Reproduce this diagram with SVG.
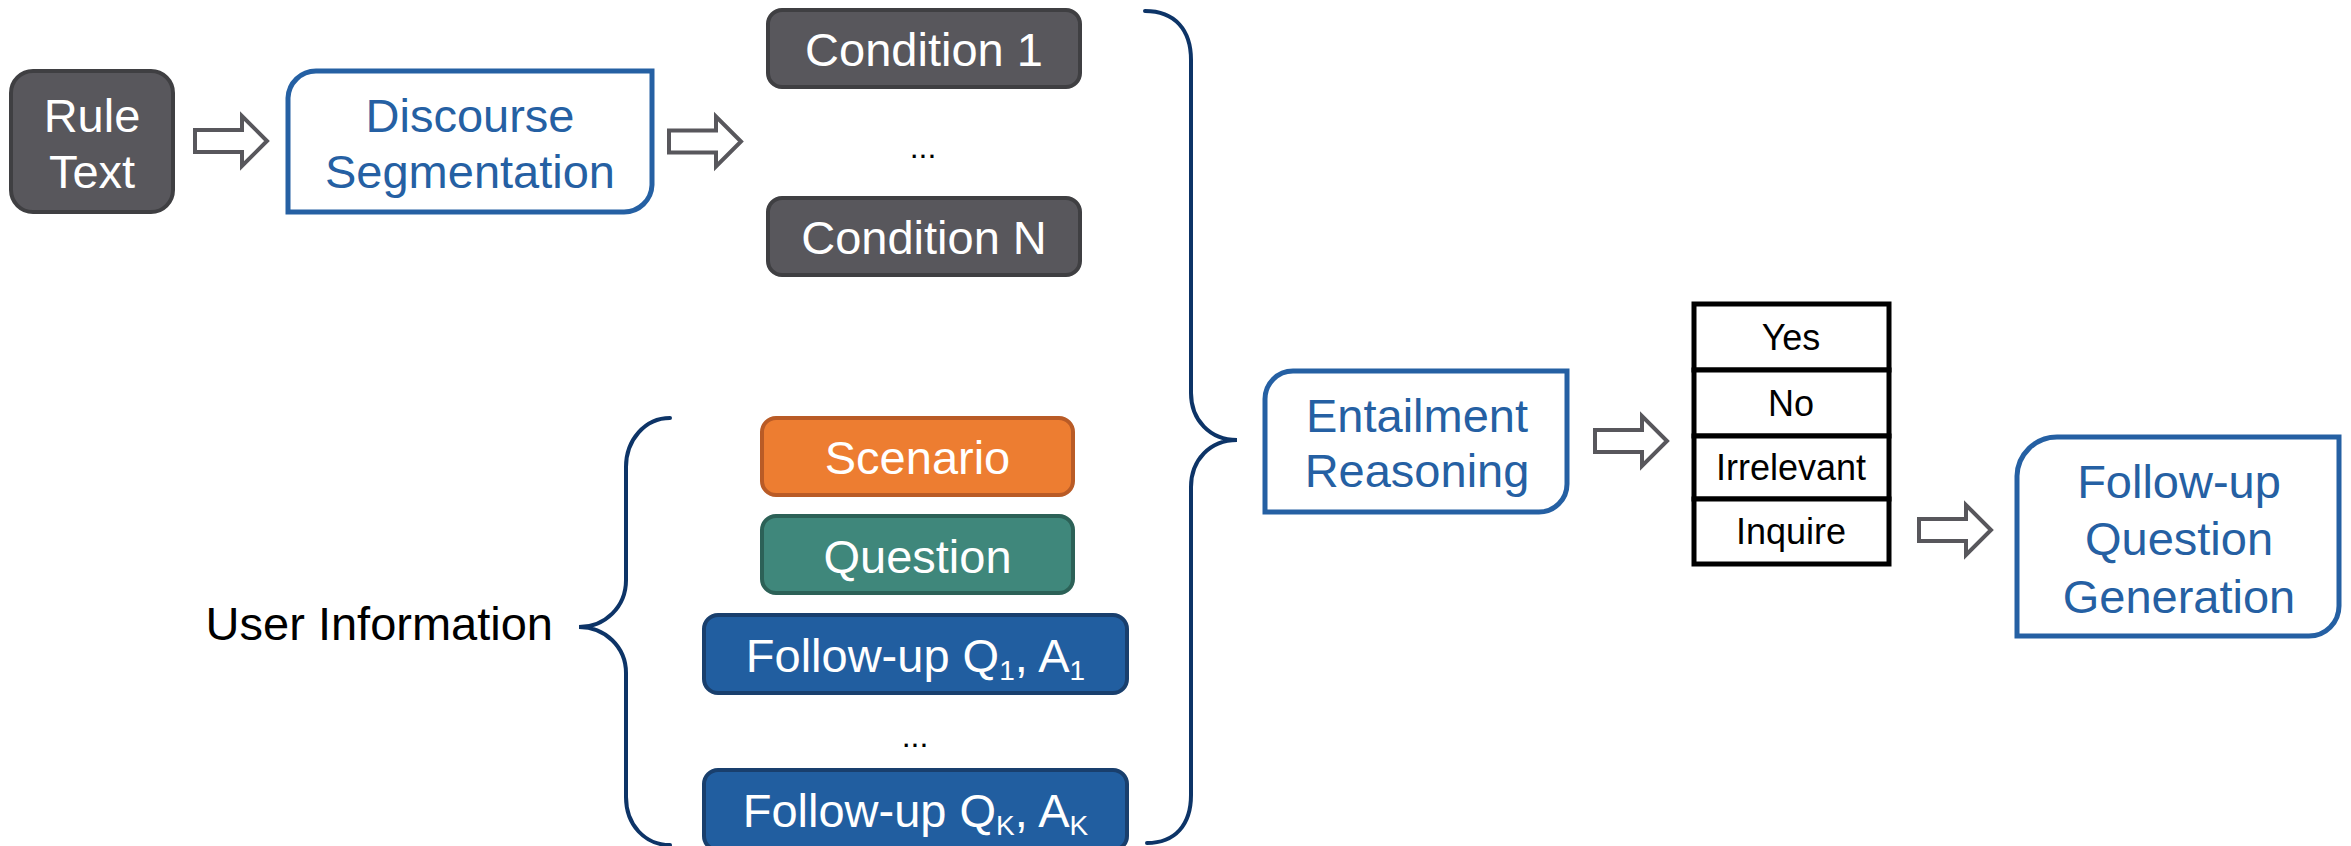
<svg xmlns="http://www.w3.org/2000/svg" width="2351" height="846" viewBox="0 0 2351 846">
<defs>
<style>
text{font-family:"Liberation Sans",Arial,sans-serif;text-anchor:middle}
.big{font-size:47px}
.w{fill:#ffffff}
.b{fill:#2560a3}
.k{fill:#000000}
.dark{fill:#58575c;stroke:#3f3f42;stroke-width:4}
.orange{fill:#ed7d31;stroke:#b95b26;stroke-width:4}
.teal{fill:#3f877b;stroke:#2c6157;stroke-width:4}
.blue{fill:#215ea0;stroke:#193f6d;stroke-width:4}
.outline{fill:#ffffff;stroke:#2560a3;stroke-width:5}
.arrow{fill:#ffffff;stroke:#58575c;stroke-width:4}
.brace{fill:none;stroke:#0d3467;stroke-width:4;stroke-linecap:round}
.cell{fill:#ffffff;stroke:#000000;stroke-width:5}
.tbl{font-size:36px}
.dots{font-size:32px}
</style>
<path id="arr" d="M0,-11 H47 V-25 L72,0 L47,25 V11 H0 Z"/>
</defs>
<rect width="2351" height="846" fill="#ffffff"/>

<g id="connectors">
<use href="#arr" class="arrow" transform="translate(195,141)"/>
<use href="#arr" class="arrow" transform="translate(669,141.5)"/>
<use href="#arr" class="arrow" transform="translate(1595,441)"/>
<use href="#arr" class="arrow" transform="translate(1919,530)"/>
<path class="brace" d="M1145,11 C1175,11 1191,30 1191,60 V393 C1191,420 1210,440 1237,440 C1210,440 1191,460 1191,487 V795 C1191,825 1175,843 1147,843"/>
<path class="brace" d="M670,418 C645,418 626,440 626,467 V580 C626,607 605,627 579,627 C605,627 626,647 626,673 V797 C626,825 645,845 670,845"/>
</g>

<g id="rule-text">
<rect class="dark" x="11" y="71" width="162" height="141" rx="22"/>
<text class="big w" x="92" y="132">Rule</text>
<text class="big w" x="92" y="188">Text</text>
</g>

<g id="discourse-segmentation">
<path class="outline" d="M288,212 V98 A28,28 0 0 1 316,71 H652 V185 A28,28 0 0 1 624,212 Z"/>
<text class="big b" x="470" y="132">Discourse</text>
<text class="big b" x="470" y="188">Segmentation</text>
</g>

<g id="condition-1">
<rect class="dark" x="768" y="10" width="312" height="77" rx="14"/>
<text class="big w" x="924" y="66">Condition 1</text>
</g>

<text id="cond-dots" class="dots k" x="923" y="158">...</text>

<g id="condition-n">
<rect class="dark" x="768" y="198" width="312" height="77" rx="14"/>
<text class="big w" x="924" y="254">Condition N</text>
</g>

<g id="user-information">
<text class="big k" x="553" y="640" style="text-anchor:end">User Information</text>
</g>

<g id="scenario">
<rect class="orange" x="762" y="418" width="311" height="77" rx="14"/>
<text class="big w" x="917.5" y="474">Scenario</text>
</g>

<g id="question">
<rect class="teal" x="762" y="516" width="311" height="77" rx="14"/>
<text class="big w" x="917.5" y="573">Question</text>
</g>

<g id="followup-1">
<rect class="blue" x="704" y="615" width="423" height="78" rx="14"/>
<text class="big w" x="915.5" y="672">Follow-up Q<tspan font-size="28" dy="8">1</tspan><tspan dy="-8">, A</tspan><tspan font-size="28" dy="8">1</tspan></text>
</g>

<text id="fu-dots" class="dots k" x="915" y="747">...</text>

<g id="followup-k">
<rect class="blue" x="704" y="770" width="423" height="80" rx="14"/>
<text class="big w" x="915.5" y="827">Follow-up Q<tspan font-size="28" dy="8">K</tspan><tspan dy="-8">, A</tspan><tspan font-size="28" dy="8">K</tspan></text>
</g>

<g id="entailment-reasoning">
<path class="outline" d="M1265,512 V399 A28,28 0 0 1 1293,371 H1567 V484 A28,28 0 0 1 1539,512 Z"/>
<text class="big b" x="1417" y="432">Entailment</text>
<text class="big b" x="1417" y="487">Reasoning</text>
</g>

<g id="decision-table">
<rect class="cell" x="1694" y="304" width="195" height="66"/>
<rect class="cell" x="1694" y="370" width="195" height="66"/>
<rect class="cell" x="1694" y="436" width="195" height="63"/>
<rect class="cell" x="1694" y="499" width="195" height="65"/>
<text class="tbl k" x="1791" y="350">Yes</text>
<text class="tbl k" x="1791" y="416">No</text>
<text class="tbl k" x="1791" y="480">Irrelevant</text>
<text class="tbl k" x="1791" y="544">Inquire</text>
</g>

<g id="followup-question-generation">
<path class="outline" d="M2017,636 V476 A40,40 0 0 1 2057,437 H2339 V606 A30,30 0 0 1 2309,636 Z"/>
<text class="big b" x="2179" y="498">Follow-up</text>
<text class="big b" x="2179" y="555">Question</text>
<text class="big b" x="2179" y="613">Generation</text>
</g>
</svg>
